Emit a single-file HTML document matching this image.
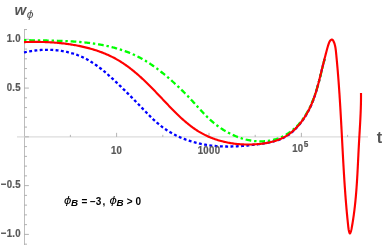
<!DOCTYPE html>
<html><head><meta charset="utf-8"><style>
html,body{margin:0;padding:0;background:#fff;}
body{width:382px;height:247px;overflow:hidden;font-family:"Liberation Sans",sans-serif;}
svg{display:block;will-change:transform;transform:translateZ(0)}
text{font-family:"Liberation Sans",sans-serif;}
.tl{font-size:9.6px;font-weight:bold;fill:#585858;stroke:#585858;stroke-width:0.2px;letter-spacing:0.3px;}
</style></head><body>
<svg width="382" height="247" viewBox="0 0 382 247">
<rect width="382" height="247" fill="#fff"/>
<g stroke="#b6b6b6" stroke-width="0.9" fill="none">
<line x1="24.5" y1="29" x2="24.5" y2="245"/>
</g>
<g stroke="#dcdcdc" stroke-width="1.4" fill="none">
<line x1="17" y1="136.9" x2="368" y2="136.9"/>
</g>
<g stroke="#a0a0a0" stroke-width="0.8" fill="none">
<line x1="24.5" y1="244.16" x2="27.0" y2="244.16"/>
<line x1="24.5" y1="234.40" x2="28.9" y2="234.40"/>
<line x1="24.5" y1="224.64" x2="27.0" y2="224.64"/>
<line x1="24.5" y1="214.89" x2="27.0" y2="214.89"/>
<line x1="24.5" y1="205.13" x2="27.0" y2="205.13"/>
<line x1="24.5" y1="195.38" x2="27.0" y2="195.38"/>
<line x1="24.5" y1="185.62" x2="28.9" y2="185.62"/>
<line x1="24.5" y1="175.87" x2="27.0" y2="175.87"/>
<line x1="24.5" y1="166.11" x2="27.0" y2="166.11"/>
<line x1="24.5" y1="156.36" x2="27.0" y2="156.36"/>
<line x1="24.5" y1="146.60" x2="27.0" y2="146.60"/>
<line x1="24.5" y1="136.85" x2="28.9" y2="136.85"/>
<line x1="24.5" y1="127.09" x2="27.0" y2="127.09"/>
<line x1="24.5" y1="117.34" x2="27.0" y2="117.34"/>
<line x1="24.5" y1="107.58" x2="27.0" y2="107.58"/>
<line x1="24.5" y1="97.83" x2="27.0" y2="97.83"/>
<line x1="24.5" y1="88.07" x2="28.9" y2="88.07"/>
<line x1="24.5" y1="78.32" x2="27.0" y2="78.32"/>
<line x1="24.5" y1="68.56" x2="27.0" y2="68.56"/>
<line x1="24.5" y1="58.81" x2="27.0" y2="58.81"/>
<line x1="24.5" y1="49.05" x2="27.0" y2="49.05"/>
<line x1="24.5" y1="39.30" x2="28.9" y2="39.30"/>
<line x1="24.5" y1="29.54" x2="27.0" y2="29.54"/>
<line x1="70.40" y1="136.85" x2="70.40" y2="134.85"/>
<line x1="116.60" y1="136.85" x2="116.60" y2="132.85"/>
<line x1="162.80" y1="136.85" x2="162.80" y2="134.85"/>
<line x1="209.00" y1="136.85" x2="209.00" y2="132.85"/>
<line x1="255.20" y1="136.85" x2="255.20" y2="134.85"/>
<line x1="301.40" y1="136.85" x2="301.40" y2="132.85"/>
<line x1="347.60" y1="136.85" x2="347.60" y2="134.85"/>
</g>
<g fill="none" stroke-width="2.15" stroke-linejoin="round">
<path d="M24.00,52.50 L24.75,52.33 L25.50,52.16 L26.25,52.00 L27.00,51.84 L27.75,51.69 L28.51,51.55 L29.26,51.41 L30.02,51.28 L30.78,51.15 L31.54,51.03 L32.31,50.91 L33.07,50.80 L33.83,50.70 L34.60,50.60 L35.37,50.50 L36.14,50.41 L36.90,50.33 L37.67,50.26 L38.44,50.19 L39.22,50.12 L39.99,50.06 L40.76,50.01 L41.53,49.97 L42.31,49.92 L43.08,49.89 L43.85,49.86 L44.63,49.84 L45.40,49.82 L46.17,49.81 L46.95,49.81 L47.72,49.81 L48.50,49.82 L49.27,49.83 L50.04,49.86 L50.82,49.88 L51.59,49.92 L52.36,49.96 L53.13,50.00 L53.90,50.05 L54.67,50.11 L55.44,50.18 L56.21,50.25 L56.98,50.33 L57.75,50.41 L58.51,50.50 L59.28,50.60 L60.04,50.70 L60.80,50.81 L61.56,50.93 L62.32,51.05 L63.08,51.19 L63.84,51.32 L64.59,51.47 L65.35,51.62 L66.10,51.77 L66.85,51.94 L67.60,52.11 L68.34,52.29 L69.09,52.47 L69.83,52.66 L70.57,52.86 L71.31,53.06 L72.04,53.28 L72.78,53.49 L73.51,53.72 L74.24,53.95 L74.96,54.19 L75.69,54.44 L76.41,54.69 L77.13,54.95 L77.84,55.22 L78.56,55.50 L79.26,55.78 L79.97,56.07 L80.68,56.37 L81.38,56.67 L82.07,56.98 L82.77,57.30 L83.46,57.62 L84.15,57.96 L84.83,58.30 L85.51,58.65 L86.19,59.00 L86.86,59.36 L87.53,59.73 L88.20,60.10 L88.86,60.48 L89.53,60.87 L90.18,61.26 L90.84,61.66 L91.49,62.07 L92.14,62.48 L92.79,62.90 L93.43,63.32 L94.07,63.74 L94.71,64.18 L95.35,64.61 L95.98,65.06 L96.61,65.50 L97.24,65.96 L97.86,66.41 L98.48,66.87 L99.10,67.34 L99.72,67.81 L100.33,68.28 L100.95,68.76 L101.56,69.24 L102.16,69.73 L102.77,70.22 L103.37,70.71 L103.97,71.20 L104.57,71.70 L105.17,72.20 L105.76,72.71 L106.36,73.21 L106.95,73.72 L107.53,74.24 L108.12,74.75 L108.71,75.27 L109.29,75.79 L109.87,76.31 L110.45,76.83 L111.03,77.35 L111.60,77.88 L112.18,78.40 L112.75,78.93 L113.32,79.46 L113.89,79.99 L114.46,80.52 L115.02,81.06 L115.59,81.59 L116.15,82.12 L116.71,82.66 L117.27,83.19 L117.83,83.72 L118.39,84.26 L118.95,84.79 L119.50,85.33 L120.06,85.86 L120.61,86.40 L121.16,86.93 L121.71,87.47 L122.26,88.00 L122.81,88.54 L123.36,89.08 L123.91,89.61 L124.45,90.15 L125.00,90.69 L125.54,91.22 L126.09,91.76 L126.63,92.30 L127.17,92.84 L127.71,93.38 L128.25,93.92 L128.79,94.46 L129.33,95.00 L129.87,95.54 L130.41,96.08 L130.95,96.62 L131.48,97.16 L132.02,97.70 L132.55,98.25 L133.09,98.79 L133.62,99.33 L134.16,99.88 L134.69,100.42 L135.23,100.97 L135.76,101.51 L136.29,102.06 L136.83,102.60 L137.36,103.15 L137.89,103.70 L138.43,104.25 L138.96,104.79 L139.49,105.34 L140.02,105.89 L140.55,106.44 L141.09,106.99 L141.62,107.54 L142.15,108.10 L142.68,108.65 L143.22,109.20 L143.75,109.75 L144.28,110.31 L144.82,110.86 L145.35,111.42 L145.88,111.97 L146.42,112.53 L146.95,113.08 L147.49,113.64 L148.03,114.19 L148.57,114.74 L149.11,115.29 L149.65,115.84 L150.20,116.39 L150.75,116.94 L151.30,117.48 L151.85,118.02 L152.40,118.56 L152.96,119.09 L153.52,119.63 L154.09,120.15 L154.65,120.68 L155.22,121.20 L155.80,121.72 L156.38,122.23 L156.96,122.74 L157.55,123.24 L158.14,123.74 L158.74,124.23 L159.34,124.72 L159.94,125.21 L160.55,125.69 L161.16,126.16 L161.78,126.63 L162.40,127.09 L163.02,127.55 L163.65,128.00 L164.28,128.45 L164.91,128.89 L165.55,129.32 L166.19,129.75 L166.84,130.18 L167.49,130.60 L168.14,131.01 L168.80,131.42 L169.45,131.82 L170.12,132.21 L170.78,132.60 L171.45,132.98 L172.12,133.36 L172.79,133.73 L173.47,134.10 L174.15,134.46 L174.84,134.81 L175.52,135.16 L176.21,135.50 L176.90,135.84 L177.59,136.17 L178.29,136.50 L178.99,136.82 L179.69,137.13 L180.40,137.44 L181.10,137.74 L181.81,138.04 L182.52,138.33 L183.24,138.62 L183.95,138.90 L184.67,139.18 L185.39,139.45 L186.11,139.71 L186.84,139.97 L187.56,140.22 L188.29,140.47 L189.02,140.71 L189.75,140.95 L190.48,141.18 L191.22,141.41 L191.96,141.63 L192.69,141.85 L193.43,142.06 L194.18,142.26 L194.92,142.46 L195.66,142.66 L196.41,142.85 L197.16,143.04 L197.90,143.22 L198.65,143.39 L199.40,143.56 L200.16,143.73 L200.91,143.89 L201.66,144.04 L202.42,144.19 L203.17,144.34 L203.93,144.48 L204.69,144.61 L205.45,144.74 L206.21,144.87 L206.96,144.99 L207.73,145.10 L208.49,145.21 L209.25,145.32 L210.01,145.42 L210.77,145.52 L211.53,145.61 L212.30,145.69 L213.06,145.78 L213.82,145.86 L214.59,145.93 L215.35,146.00 L216.12,146.06 L216.88,146.12 L217.65,146.18 L218.41,146.23 L219.18,146.28 L219.94,146.32 L220.71,146.36 L221.48,146.39 L222.24,146.42 L223.01,146.45 L223.78,146.47 L224.54,146.49 L225.31,146.50 L226.08,146.52 L226.85,146.52 L227.62,146.53 L228.38,146.53 L229.15,146.52 L229.92,146.51 L230.69,146.50 L231.46,146.49 L232.23,146.47 L233.00,146.45 L233.77,146.43 L234.54,146.40 L235.30,146.37 L236.07,146.33 L236.84,146.30 L237.61,146.26 L238.38,146.21 L239.15,146.17 L239.92,146.12 L240.69,146.07 L241.46,146.01 L242.23,145.95 L243.00,145.89 L243.77,145.83 L244.54,145.76 L245.31,145.70 L246.08,145.62 L246.85,145.55 L247.62,145.48 L248.39,145.40 L249.16,145.32 L249.93,145.23 L250.70,145.15 L251.47,145.06 L252.24,144.97 L253.01,144.88 L253.78,144.79 L254.55,144.69 L255.32,144.59 L256.09,144.50 L256.86,144.39 L257.63,144.29 L258.40,144.19 L259.16,144.08 L259.93,143.97 L260.70,143.86 L261.47,143.75 L262.24,143.64 L263.00,143.52 L263.77,143.40 L264.53,143.28 L265.30,143.15 L266.06,143.02 L266.82,142.88 L267.58,142.74 L268.34,142.60 L269.09,142.45 L269.84,142.29 L270.59,142.13 L271.34,141.96 L272.08,141.78 L272.83,141.60 L273.57,141.41 L274.30,141.21 L275.03,141.01 L275.76,140.79 L276.49,140.57 L277.21,140.34 L277.93,140.10 L278.64,139.85 L279.35,139.59 L280.05,139.32 L280.75,139.04 L281.44,138.74 L282.13,138.44 L282.81,138.12 L283.49,137.80 L284.17,137.46 L284.83,137.10 L285.49,136.74 L286.15,136.36 L286.80,135.97 L287.44,135.56 L288.07,135.14 L288.70,134.71 L289.33,134.26 L289.94,133.80 L290.55,133.33 L291.15,132.85 L291.75,132.36 L292.34,131.85 L292.92,131.34 L293.50,130.81 L294.07,130.28 L294.63,129.74 L295.19,129.19 L295.74,128.63 L296.28,128.06 L296.82,127.49 L297.35,126.91 L297.87,126.32 L298.39,125.73 L298.90,125.13 L299.40,124.53 L299.89,123.92 L300.38,123.31 L300.86,122.69 L301.34,122.07 L301.81,121.45 L302.27,120.82 L302.72,120.19 L303.17,119.56 L303.61,118.92 L304.04,118.28 L304.47,117.64 L304.89,116.99 L305.31,116.34 L305.72,115.68 L306.12,115.02 L306.51,114.36 L306.90,113.70 L307.28,113.03 L307.66,112.36 L308.02,111.69 L308.39,111.01 L308.74,110.33 L309.09,109.65 L309.44,108.97 L309.77,108.28 L310.10,107.59 L310.43,106.89 L310.75,106.20 L311.06,105.50 L311.37,104.80 L311.67,104.10 L311.96,103.39 L312.26,102.68 L312.54,101.97 L312.82,101.26 L313.10,100.55 L313.37,99.83 L313.63,99.11 L313.89,98.39 L314.15,97.67 L314.40,96.94 L314.65,96.22 L314.89,95.49 L315.13,94.76 L315.37,94.03 L315.60,93.30 L315.83,92.57 L316.06,91.83 L316.28,91.09 L316.50,90.36 L316.72,89.62 L316.93,88.88 L317.14,88.14 L317.35,87.39 L317.55,86.65 L317.76,85.91 L317.96,85.16 L318.16,84.41 L318.35,83.67 L318.55,82.92 L318.74,82.17 L318.93,81.42 L319.12,80.68 L319.31,79.93 L319.50,79.18 L319.69,78.43 L319.87,77.68 L320.06,76.93 L320.24,76.17 L320.42,75.42 L320.61,74.67 L320.79,73.92 L320.97,73.17 L321.16,72.42 L321.34,71.67 L321.52,70.92 L321.71,70.17 L321.89,69.42 L322.08,68.68 L322.26,67.93 L322.45,67.18 L322.64,66.43 L322.83,65.69 L323.02,64.94 L323.21,64.20 L323.40,63.45 L323.60,62.71 L323.79,61.97 L323.99,61.23 L324.19,60.49 L324.39,59.75 L324.60,59.02" stroke="#0000ff" stroke-dasharray="2.9 2.4" stroke-width="2.3"/>
<path d="M24.00,40.15 L24.75,40.17 L25.50,40.18 L26.24,40.20 L26.99,40.21 L27.75,40.23 L28.50,40.24 L29.25,40.25 L30.01,40.27 L30.76,40.28 L31.52,40.29 L32.27,40.30 L33.03,40.31 L33.79,40.33 L34.55,40.34 L35.31,40.35 L36.07,40.36 L36.83,40.37 L37.59,40.38 L38.35,40.39 L39.12,40.40 L39.88,40.41 L40.65,40.42 L41.41,40.44 L42.18,40.45 L42.94,40.46 L43.71,40.47 L44.48,40.48 L45.25,40.50 L46.01,40.51 L46.78,40.52 L47.55,40.54 L48.32,40.55 L49.09,40.57 L49.87,40.58 L50.64,40.60 L51.41,40.61 L52.18,40.63 L52.95,40.65 L53.72,40.67 L54.50,40.69 L55.27,40.71 L56.04,40.73 L56.82,40.75 L57.59,40.78 L58.37,40.80 L59.14,40.82 L59.91,40.85 L60.69,40.88 L61.46,40.91 L62.24,40.94 L63.01,40.97 L63.79,41.00 L64.56,41.03 L65.34,41.07 L66.11,41.10 L66.89,41.14 L67.66,41.18 L68.44,41.22 L69.21,41.26 L69.99,41.30 L70.76,41.35 L71.54,41.39 L72.31,41.44 L73.08,41.49 L73.86,41.54 L74.63,41.60 L75.40,41.65 L76.18,41.71 L76.95,41.77 L77.72,41.83 L78.49,41.89 L79.27,41.95 L80.04,42.02 L80.81,42.09 L81.58,42.16 L82.35,42.23 L83.12,42.30 L83.89,42.38 L84.66,42.46 L85.43,42.54 L86.19,42.63 L86.96,42.71 L87.73,42.80 L88.49,42.89 L89.26,42.98 L90.02,43.08 L90.79,43.18 L91.55,43.28 L92.32,43.38 L93.08,43.49 L93.84,43.60 L94.60,43.71 L95.36,43.82 L96.12,43.94 L96.88,44.06 L97.64,44.18 L98.39,44.31 L99.15,44.44 L99.90,44.57 L100.66,44.70 L101.41,44.84 L102.16,44.98 L102.92,45.12 L103.67,45.27 L104.42,45.42 L105.16,45.58 L105.91,45.73 L106.66,45.89 L107.40,46.05 L108.15,46.22 L108.89,46.39 L109.63,46.57 L110.37,46.74 L111.11,46.92 L111.85,47.11 L112.59,47.29 L113.32,47.49 L114.06,47.68 L114.79,47.88 L115.53,48.08 L116.26,48.29 L116.99,48.50 L117.71,48.71 L118.44,48.93 L119.17,49.15 L119.89,49.38 L120.61,49.61 L121.34,49.84 L122.06,50.08 L122.77,50.32 L123.49,50.57 L124.21,50.82 L124.92,51.07 L125.63,51.33 L126.34,51.59 L127.05,51.86 L127.76,52.13 L128.46,52.41 L129.17,52.69 L129.87,52.97 L130.57,53.26 L131.27,53.56 L131.97,53.86 L132.66,54.16 L133.36,54.47 L134.05,54.78 L134.74,55.10 L135.43,55.42 L136.11,55.75 L136.80,56.08 L137.48,56.42 L138.16,56.76 L138.84,57.11 L139.52,57.46 L140.19,57.82 L140.87,58.18 L141.54,58.55 L142.21,58.92 L142.87,59.30 L143.54,59.68 L144.20,60.07 L144.86,60.46 L145.52,60.85 L146.18,61.26 L146.83,61.66 L147.48,62.07 L148.14,62.49 L148.78,62.91 L149.43,63.33 L150.08,63.76 L150.72,64.19 L151.36,64.62 L152.00,65.06 L152.63,65.50 L153.27,65.95 L153.90,66.40 L154.53,66.85 L155.16,67.30 L155.79,67.76 L156.41,68.22 L157.04,68.69 L157.66,69.16 L158.28,69.63 L158.89,70.10 L159.51,70.57 L160.12,71.05 L160.73,71.53 L161.34,72.01 L161.95,72.50 L162.56,72.99 L163.16,73.47 L163.76,73.96 L164.36,74.46 L164.96,74.95 L165.56,75.44 L166.15,75.94 L166.74,76.44 L167.33,76.94 L167.92,77.44 L168.51,77.94 L169.09,78.44 L169.68,78.95 L170.26,79.45 L170.84,79.96 L171.41,80.47 L171.99,80.98 L172.56,81.49 L173.14,82.00 L173.71,82.51 L174.27,83.03 L174.84,83.54 L175.41,84.06 L175.97,84.58 L176.53,85.10 L177.09,85.62 L177.65,86.14 L178.21,86.66 L178.76,87.19 L179.32,87.71 L179.87,88.24 L180.42,88.77 L180.97,89.30 L181.51,89.83 L182.06,90.36 L182.60,90.90 L183.14,91.43 L183.68,91.97 L184.22,92.51 L184.76,93.05 L185.30,93.59 L185.83,94.13 L186.36,94.67 L186.90,95.22 L187.43,95.76 L187.96,96.31 L188.48,96.86 L189.01,97.41 L189.53,97.96 L190.06,98.52 L190.58,99.07 L191.10,99.63 L191.62,100.19 L192.13,100.75 L192.65,101.31 L193.16,101.87 L193.68,102.43 L194.19,103.00 L194.71,103.56 L195.22,104.13 L195.73,104.69 L196.24,105.26 L196.75,105.82 L197.27,106.39 L197.78,106.96 L198.29,107.52 L198.80,108.09 L199.32,108.65 L199.83,109.22 L200.35,109.78 L200.87,110.34 L201.39,110.90 L201.91,111.46 L202.43,112.02 L202.95,112.58 L203.48,113.13 L204.01,113.68 L204.54,114.24 L205.07,114.78 L205.60,115.33 L206.14,115.87 L206.68,116.41 L207.23,116.95 L207.78,117.49 L208.33,118.02 L208.88,118.55 L209.44,119.07 L210.00,119.59 L210.57,120.11 L211.14,120.62 L211.71,121.13 L212.29,121.64 L212.88,122.14 L213.47,122.64 L214.06,123.13 L214.66,123.62 L215.26,124.10 L215.87,124.58 L216.48,125.05 L217.10,125.52 L217.72,125.98 L218.34,126.44 L218.97,126.89 L219.60,127.34 L220.24,127.78 L220.88,128.22 L221.53,128.65 L222.17,129.07 L222.83,129.49 L223.48,129.91 L224.14,130.31 L224.81,130.71 L225.47,131.11 L226.14,131.50 L226.82,131.88 L227.50,132.26 L228.18,132.63 L228.86,132.99 L229.55,133.35 L230.24,133.70 L230.93,134.05 L231.63,134.38 L232.32,134.72 L233.03,135.04 L233.73,135.36 L234.44,135.67 L235.15,135.97 L235.86,136.26 L236.57,136.55 L237.29,136.83 L238.01,137.10 L238.73,137.37 L239.46,137.62 L240.18,137.87 L240.91,138.11 L241.64,138.35 L242.37,138.57 L243.11,138.79 L243.84,139.00 L244.58,139.20 L245.32,139.39 L246.06,139.58 L246.81,139.75 L247.55,139.92 L248.30,140.08 L249.04,140.23 L249.79,140.37 L250.54,140.50 L251.29,140.62 L252.04,140.74 L252.80,140.84 L253.55,140.93 L254.30,141.02 L255.06,141.10 L255.82,141.16 L256.57,141.22 L257.33,141.27 L258.09,141.30 L258.85,141.33 L259.61,141.35 L260.37,141.36 L261.13,141.36 L261.89,141.34 L262.65,141.32 L263.41,141.29 L264.17,141.24 L264.93,141.19 L265.69,141.12 L266.45,141.05 L267.21,140.96 L267.97,140.86 L268.73,140.76 L269.49,140.64 L270.25,140.51 L271.00,140.37 L271.76,140.21 L272.51,140.05 L273.26,139.87 L274.01,139.68 L274.75,139.48 L275.50,139.27 L276.23,139.05 L276.97,138.81 L277.70,138.57 L278.43,138.30 L279.16,138.03 L279.88,137.75 L280.59,137.45 L281.30,137.14 L282.01,136.82 L282.71,136.48 L283.40,136.13 L284.09,135.77 L284.78,135.40 L285.45,135.02 L286.13,134.63 L286.79,134.23 L287.45,133.81 L288.10,133.39 L288.75,132.96 L289.39,132.52 L290.02,132.07 L290.65,131.61 L291.26,131.14 L291.87,130.66 L292.47,130.18 L293.07,129.69 L293.65,129.19 L294.23,128.69 L294.80,128.17 L295.36,127.65 L295.91,127.13 L296.45,126.60 L296.99,126.06 L297.52,125.51 L298.04,124.96 L298.55,124.41 L299.05,123.84 L299.55,123.27 L300.04,122.70 L300.52,122.12 L301.00,121.53 L301.46,120.94 L301.92,120.35 L302.38,119.74 L302.82,119.14 L303.26,118.52 L303.70,117.91 L304.12,117.28 L304.54,116.65 L304.95,116.02 L305.36,115.39 L305.76,114.74 L306.15,114.10 L306.54,113.45 L306.92,112.79 L307.30,112.13 L307.67,111.47 L308.03,110.80 L308.39,110.13 L308.74,109.46 L309.09,108.78 L309.43,108.09 L309.77,107.41 L310.10,106.72 L310.43,106.03 L310.75,105.33 L311.06,104.63 L311.37,103.93 L311.68,103.22 L311.98,102.51 L312.28,101.80 L312.57,101.09 L312.86,100.37 L313.14,99.65 L313.42,98.93 L313.69,98.21 L313.96,97.48 L314.23,96.75 L314.49,96.02 L314.75,95.29 L315.01,94.56 L315.26,93.82 L315.51,93.08 L315.75,92.34 L315.99,91.60 L316.23,90.86 L316.46,90.12 L316.69,89.37 L316.92,88.63 L317.15,87.88 L317.37,87.13 L317.59,86.38 L317.81,85.64 L318.02,84.89 L318.23,84.13 L318.44,83.38 L318.65,82.63 L318.86,81.88 L319.06,81.13 L319.26,80.38 L319.46,79.63 L319.66,78.87 L319.85,78.12 L320.05,77.37 L320.24,76.62 L320.43,75.87 L320.62,75.12 L320.80,74.37 L320.99,73.62 L321.18,72.87 L321.36,72.13 L321.54,71.38 L321.73,70.64 L321.91,69.89 L322.09,69.15 L322.27,68.41 L322.45,67.67 L322.63,66.94 L322.81,66.20 L322.99,65.47 L323.17,64.73 L323.34,64.00 L323.52,63.28 L323.70,62.55 L323.88,61.83 L324.06,61.10 L324.24,60.39 L324.42,59.67 L324.60,58.96" stroke="#00ff00" stroke-dasharray="2.4 2.85 5.7 2.85" stroke-width="2.3"/>
<path d="M24.00,42.10 L25.10,42.07 L26.19,42.03 L27.28,42.01 L28.36,41.98 L29.45,41.96 L30.52,41.94 L31.60,41.93 L32.67,41.92 L33.74,41.91 L34.80,41.91 L35.87,41.91 L36.93,41.91 L37.98,41.92 L39.04,41.93 L40.09,41.94 L41.14,41.96 L42.19,41.99 L43.24,42.02 L44.29,42.05 L45.34,42.08 L46.38,42.13 L47.43,42.17 L48.47,42.22 L49.51,42.27 L50.56,42.33 L51.60,42.40 L52.64,42.47 L53.68,42.54 L54.73,42.62 L55.77,42.70 L56.82,42.79 L57.86,42.88 L58.91,42.98 L59.96,43.08 L61.01,43.19 L62.06,43.31 L63.11,43.43 L64.17,43.55 L65.22,43.68 L66.28,43.82 L67.34,43.96 L68.40,44.11 L69.46,44.26 L70.52,44.42 L71.58,44.59 L72.64,44.76 L73.70,44.94 L74.77,45.12 L75.83,45.31 L76.89,45.51 L77.95,45.71 L79.01,45.92 L80.07,46.14 L81.12,46.37 L82.18,46.60 L83.23,46.83 L84.29,47.08 L85.34,47.33 L86.39,47.59 L87.44,47.85 L88.48,48.13 L89.53,48.41 L90.57,48.70 L91.61,48.99 L92.64,49.30 L93.67,49.61 L94.70,49.93 L95.73,50.25 L96.75,50.59 L97.77,50.93 L98.79,51.28 L99.80,51.64 L100.81,52.01 L101.81,52.38 L102.81,52.77 L103.80,53.16 L104.79,53.56 L105.77,53.97 L106.75,54.39 L107.73,54.82 L108.70,55.26 L109.66,55.70 L110.62,56.16 L111.57,56.62 L112.51,57.09 L113.45,57.57 L114.38,58.07 L115.31,58.57 L116.23,59.08 L117.14,59.60 L118.05,60.12 L118.95,60.66 L119.85,61.20 L120.74,61.76 L121.63,62.32 L122.51,62.89 L123.38,63.47 L124.25,64.05 L125.11,64.65 L125.97,65.25 L126.83,65.85 L127.67,66.47 L128.52,67.09 L129.36,67.72 L130.19,68.36 L131.02,69.00 L131.85,69.65 L132.67,70.30 L133.49,70.96 L134.30,71.63 L135.11,72.30 L135.92,72.98 L136.72,73.67 L137.52,74.36 L138.31,75.05 L139.11,75.75 L139.90,76.45 L140.68,77.16 L141.46,77.88 L142.24,78.60 L143.02,79.32 L143.79,80.05 L144.56,80.78 L145.33,81.51 L146.10,82.25 L146.86,82.99 L147.62,83.74 L148.38,84.49 L149.14,85.24 L149.90,85.99 L150.65,86.75 L151.40,87.51 L152.15,88.27 L152.90,89.04 L153.65,89.81 L154.39,90.58 L155.14,91.35 L155.88,92.12 L156.63,92.90 L157.37,93.67 L158.11,94.45 L158.85,95.23 L159.59,96.01 L160.33,96.79 L161.07,97.57 L161.81,98.35 L162.55,99.13 L163.29,99.92 L164.03,100.70 L164.77,101.48 L165.51,102.26 L166.25,103.04 L166.99,103.82 L167.73,104.60 L168.47,105.38 L169.21,106.16 L169.96,106.93 L170.71,107.71 L171.45,108.48 L172.20,109.24 L172.96,110.01 L173.71,110.77 L174.46,111.53 L175.22,112.29 L175.98,113.04 L176.75,113.79 L177.51,114.53 L178.28,115.27 L179.05,116.00 L179.83,116.73 L180.60,117.46 L181.38,118.18 L182.17,118.89 L182.96,119.60 L183.75,120.30 L184.55,120.99 L185.35,121.68 L186.15,122.36 L186.96,123.04 L187.78,123.70 L188.60,124.36 L189.42,125.01 L190.25,125.66 L191.08,126.29 L191.92,126.92 L192.77,127.54 L193.62,128.15 L194.48,128.75 L195.34,129.34 L196.21,129.92 L197.08,130.49 L197.97,131.05 L198.85,131.60 L199.75,132.13 L200.65,132.66 L201.56,133.18 L202.48,133.68 L203.40,134.18 L204.33,134.66 L205.27,135.13 L206.21,135.59 L207.16,136.03 L208.12,136.47 L209.09,136.89 L210.06,137.30 L211.04,137.70 L212.02,138.09 L213.01,138.46 L214.01,138.83 L215.01,139.18 L216.01,139.52 L217.02,139.85 L218.04,140.17 L219.06,140.47 L220.09,140.77 L221.12,141.05 L222.15,141.32 L223.19,141.58 L224.23,141.83 L225.28,142.07 L226.33,142.30 L227.38,142.52 L228.44,142.72 L229.50,142.91 L230.56,143.10 L231.62,143.27 L232.69,143.43 L233.76,143.58 L234.83,143.72 L235.90,143.84 L236.97,143.96 L238.05,144.07 L239.13,144.16 L240.21,144.24 L241.28,144.32 L242.37,144.38 L243.45,144.43 L244.53,144.47 L245.61,144.50 L246.69,144.52 L247.77,144.53 L248.85,144.53 L249.93,144.52 L251.01,144.50 L252.09,144.46 L253.17,144.42 L254.24,144.37 L255.32,144.30 L256.39,144.23 L257.46,144.15 L258.53,144.05 L259.60,143.95 L260.67,143.83 L261.73,143.71 L262.79,143.57 L263.85,143.42 L264.90,143.26 L265.95,143.09 L266.99,142.91 L268.03,142.71 L269.07,142.50 L270.10,142.27 L271.12,142.03 L272.14,141.77 L273.15,141.50 L274.16,141.22 L275.16,140.91 L276.15,140.60 L277.13,140.26 L278.11,139.90 L279.08,139.53 L280.03,139.14 L280.99,138.73 L281.93,138.30 L282.86,137.85 L283.78,137.38 L284.69,136.89 L285.59,136.38 L286.48,135.84 L287.36,135.29 L288.23,134.71 L289.08,134.11 L289.93,133.49 L290.76,132.85 L291.58,132.19 L292.39,131.51 L293.19,130.81 L293.98,130.10 L294.75,129.37 L295.52,128.62 L296.27,127.85 L297.01,127.07 L297.73,126.28 L298.45,125.47 L299.15,124.64 L299.84,123.81 L300.52,122.96 L301.19,122.10 L301.84,121.23 L302.48,120.35 L303.11,119.46 L303.73,118.55 L304.34,117.64 L304.93,116.73 L305.51,115.80 L306.08,114.87 L306.63,113.93 L307.17,112.99 L307.70,112.04 L308.22,111.08 L308.72,110.13 L309.21,109.17 L309.69,108.20 L310.16,107.24 L310.61,106.27 L311.05,105.30 L311.48,104.33 L311.89,103.36 L312.30,102.38 L312.69,101.41 L313.08,100.43 L313.45,99.45 L313.82,98.47 L314.17,97.48 L314.52,96.50 L314.85,95.51 L315.18,94.52 L315.51,93.52 L315.82,92.53 L316.13,91.53 L316.43,90.53 L316.73,89.53 L317.02,88.53 L317.30,87.52 L317.58,86.52 L317.86,85.50 L318.13,84.49 L318.40,83.48 L318.66,82.46 L318.92,81.44 L319.18,80.41 L319.44,79.39 L319.70,78.36 L319.95,77.33 L320.20,76.30 L320.46,75.26 L320.71,74.22 L320.96,73.18 L321.22,72.14 L321.48,71.09 L321.73,70.04 L321.99,68.99 L322.25,67.93 L322.51,66.88 L322.78,65.82 L323.04,64.77 L323.30,63.72 L323.57,62.66 L323.83,61.61 L324.10,60.57 L324.36,59.52 L324.62,58.49 L324.89,57.45 L325.15,56.43 L325.41,55.40 L325.68,54.39 L325.94,53.38 L326.19,52.39 L326.45,51.40 L326.71,50.42 L326.97,49.44 L327.24,48.46 L327.52,47.46 L327.82,46.44 L328.15,45.40 L328.50,44.32 L328.90,43.20 L329.35,42.09 L329.91,41.06 L330.62,40.22 L331.50,39.67 L332.34,39.68 L332.98,40.34 L333.49,41.27 L333.94,42.23 L334.32,43.21 L334.65,44.20 L334.93,45.21 L335.17,46.24 L335.37,47.27 L335.55,48.32 L335.69,49.37 L335.82,50.43 L335.94,51.49 L336.05,52.55 L336.16,53.61 L336.26,54.68 L336.37,55.74 L336.47,56.80 L336.57,57.87 L336.67,58.93 L336.77,59.99 L336.87,61.05 L336.97,62.12 L337.07,63.18 L337.16,64.24 L337.26,65.30 L337.35,66.36 L337.44,67.43 L337.54,68.49 L337.63,69.55 L337.72,70.61 L337.80,71.67 L337.89,72.73 L337.98,73.80 L338.06,74.86 L338.15,75.92 L338.23,76.98 L338.31,78.04 L338.40,79.10 L338.48,80.16 L338.56,81.22 L338.64,82.28 L338.71,83.35 L338.79,84.41 L338.87,85.47 L338.94,86.53 L339.02,87.59 L339.09,88.65 L339.17,89.71 L339.24,90.77 L339.31,91.83 L339.38,92.89 L339.46,93.95 L339.53,95.01 L339.60,96.07 L339.66,97.13 L339.73,98.20 L339.80,99.26 L339.87,100.32 L339.93,101.38 L340.00,102.44 L340.07,103.50 L340.13,104.56 L340.19,105.62 L340.26,106.68 L340.32,107.74 L340.38,108.80 L340.45,109.86 L340.51,110.92 L340.57,111.98 L340.63,113.04 L340.69,114.10 L340.75,115.16 L340.81,116.22 L340.87,117.29 L340.93,118.35 L340.99,119.41 L341.05,120.47 L341.11,121.53 L341.17,122.59 L341.22,123.65 L341.28,124.71 L341.34,125.77 L341.40,126.83 L341.45,127.89 L341.51,128.96 L341.57,130.02 L341.62,131.08 L341.68,132.14 L341.74,133.20 L341.79,134.26 L341.85,135.32 L341.91,136.38 L341.96,137.45 L342.02,138.51 L342.07,139.57 L342.13,140.63 L342.18,141.69 L342.24,142.76 L342.30,143.82 L342.35,144.88 L342.41,145.94 L342.46,147.00 L342.52,148.07 L342.58,149.13 L342.63,150.19 L342.69,151.25 L342.75,152.32 L342.80,153.38 L342.86,154.44 L342.92,155.50 L342.98,156.57 L343.03,157.63 L343.09,158.69 L343.15,159.75 L343.21,160.82 L343.27,161.88 L343.33,162.94 L343.39,164.01 L343.45,165.07 L343.51,166.13 L343.57,167.19 L343.63,168.26 L343.69,169.32 L343.76,170.38 L343.82,171.44 L343.88,172.51 L343.95,173.57 L344.01,174.63 L344.08,175.69 L344.14,176.76 L344.21,177.82 L344.28,178.88 L344.34,179.94 L344.41,181.00 L344.48,182.07 L344.55,183.13 L344.62,184.19 L344.69,185.25 L344.77,186.31 L344.84,187.37 L344.91,188.43 L344.99,189.50 L345.06,190.56 L345.14,191.62 L345.22,192.68 L345.29,193.74 L345.37,194.80 L345.45,195.86 L345.53,196.92 L345.61,197.98 L345.70,199.04 L345.78,200.10 L345.87,201.16 L345.95,202.22 L346.04,203.28 L346.13,204.34 L346.22,205.39 L346.31,206.45 L346.40,207.51 L346.49,208.57 L346.58,209.63 L346.68,210.68 L346.77,211.74 L346.87,212.80 L346.97,213.86 L347.07,214.91 L347.17,215.97 L347.27,217.03 L347.38,218.08 L347.48,219.14 L347.59,220.19 L347.70,221.25 L347.81,222.30 L347.92,223.36 L348.03,224.41 L348.14,225.47 L348.26,226.52 L348.38,227.58 L348.52,228.64 L348.69,229.73 L348.90,230.84 L349.18,231.99 L349.52,233.03 L349.91,233.47 L350.33,232.97 L350.73,231.93 L351.06,230.83 L351.33,229.76 L351.56,228.70 L351.76,227.65 L351.95,226.60 L352.13,225.55 L352.31,224.50 L352.49,223.45 L352.66,222.40 L352.83,221.35 L353.00,220.29 L353.16,219.24 L353.32,218.19 L353.47,217.14 L353.62,216.09 L353.77,215.03 L353.91,213.98 L354.05,212.93 L354.19,211.87 L354.32,210.82 L354.45,209.76 L354.58,208.71 L354.71,207.65 L354.83,206.59 L354.94,205.54 L355.06,204.48 L355.17,203.43 L355.28,202.37 L355.39,201.31 L355.49,200.25 L355.59,199.20 L355.69,198.14 L355.79,197.08 L355.88,196.02 L355.97,194.96 L356.06,193.90 L356.15,192.84 L356.24,191.78 L356.32,190.72 L356.40,189.66 L356.48,188.60 L356.56,187.54 L356.63,186.48 L356.71,185.42 L356.78,184.36 L356.85,183.30 L356.92,182.24 L356.99,181.18 L357.05,180.12 L357.12,179.06 L357.18,178.00 L357.24,176.93 L357.31,175.87 L357.37,174.81 L357.43,173.75 L357.48,172.69 L357.54,171.62 L357.60,170.56 L357.65,169.50 L357.71,168.44 L357.76,167.37 L357.82,166.31 L357.87,165.25 L357.92,164.19 L357.98,163.12 L358.03,162.06 L358.08,161.00 L358.13,159.93 L358.18,158.87 L358.23,157.81 L358.29,156.75 L358.34,155.68 L358.39,154.62 L358.44,153.56 L358.49,152.50 L358.55,151.43 L358.60,150.37 L358.65,149.31 L358.71,148.24 L358.76,147.18 L358.82,146.12 L358.88,145.06 L358.93,144.00 L358.99,142.93 L359.05,141.87 L359.11,140.81 L359.17,139.75 L359.23,138.69 L359.29,137.62 L359.35,136.56 L359.42,135.50 L359.48,134.44 L359.54,133.38 L359.60,132.32 L359.67,131.25 L359.73,130.19 L359.79,129.13 L359.85,128.07 L359.91,127.01 L359.97,125.95 L360.03,124.89 L360.09,123.82 L360.15,122.76 L360.21,121.70 L360.26,120.64 L360.32,119.58 L360.37,118.52 L360.42,117.46 L360.47,116.39 L360.52,115.33 L360.57,114.27 L360.62,113.21 L360.66,112.15 L360.70,111.08 L360.74,110.02 L360.78,108.96 L360.81,107.90 L360.84,106.83 L360.87,105.77 L360.90,104.71 L360.93,103.64 L360.95,102.58 L360.97,101.52 L360.98,100.45 L361.00,99.39 L361.00,98.32 L361.01,97.26 L361.01,96.20 L361.01,95.13 L361.01,94.07 L361.00,93.00" stroke="#ff0000"/>
</g>
<g class="tl" text-anchor="end">
<text transform="translate(20.9,41.9) scale(1,1.17)">1.0</text>
<text transform="translate(20.9,90.8) scale(1,1.17)">0.5</text>
<text transform="translate(20.9,188.0) scale(1,1.17)">−0.5</text>
<text transform="translate(20.9,236.6) scale(1,1.17)">−1.0</text>
</g>
<g class="tl" text-anchor="middle">
<text transform="translate(116.6,153.7) scale(1,1.17)">10</text>
<text transform="translate(209,153.7) scale(1,1.17)">1000</text>
</g>
<text class="tl" transform="translate(292.2,152) scale(1,1.17)">10<tspan font-size="8.2px" dy="-4.3" dx="0.3">5</tspan></text>
<text x="376.7" y="143.0" font-size="16.3px" font-weight="bold" fill="#555">t</text>
<text x="14.6" y="14.8" font-size="15px" font-weight="bold" font-style="italic" fill="#555">w</text>
<text transform="translate(26.7,18.0) scale(1.17,1)" font-size="10.4px" font-style="italic" fill="#555">ϕ</text>
<g font-size="10px" fill="#000" font-weight="bold">
<text transform="translate(64.0,204.2) scale(1.32,1)" font-size="10px" font-weight="normal" font-style="italic">ϕ</text>
<text transform="translate(70.9,205.7) scale(1.04,1)" font-size="9.4px" font-style="italic">B</text>
<text x="81.4" y="204.7">=</text>
<text x="90.0" y="204.7">−3</text>
<text x="102.4" y="204.7">,</text>
<text transform="translate(109.5,204.2) scale(1.32,1)" font-size="10px" font-weight="normal" font-style="italic">ϕ</text>
<text x="112.2" y="198.2" font-size="6px" font-weight="normal" fill="#555">.</text>
<text transform="translate(116.6,205.7) scale(1.04,1)" font-size="9.4px" font-style="italic">B</text>
<text x="126.7" y="204.7">&gt;</text>
<text x="135.6" y="204.7">0</text>
</g>
</svg>
</body></html>
